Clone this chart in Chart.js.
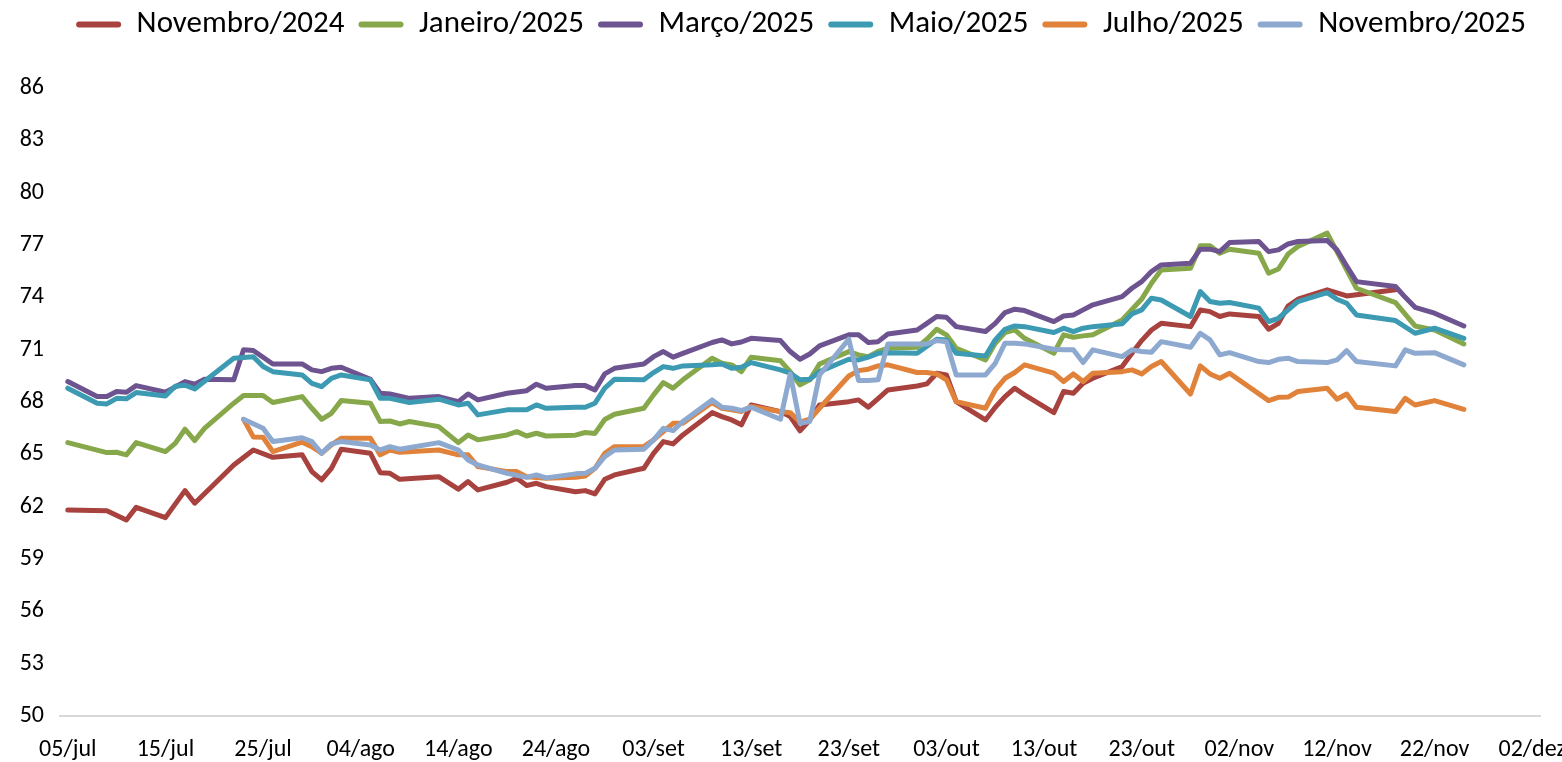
<!DOCTYPE html>
<html>
<head>
<meta charset="utf-8">
<script src="https://cdn.jsdelivr.net/npm/chart.js@4.4.1/dist/chart.umd.min.js"></script>
<style>
  html, body { margin: 0; padding: 0; background: #fff; }
  canvas { display: block; }
</style>
</head>
<body>
<canvas id="precosChart" width="1562" height="762"></canvas>
<script>
// x = days since 05/jul, y = price
const tickLabels = ['05/jul', '15/jul', '25/jul', '04/ago', '14/ago', '24/ago', '03/set', '13/set',
  '23/set', '03/out', '13/out', '23/out', '02/nov', '12/nov', '22/nov', '02/dez'];
const tickDays = tickLabels.map((label, i) => i * 10);

const seriesNames = ['Novembro/2024', 'Janeiro/2025', 'Março/2025', 'Maio/2025', 'Julho/2025', 'Novembro/2025'];

const nov24 = [[0,61.81],[4,61.77],[6,61.24],[7,61.96],[10,61.37],[12,62.92],[13,62.2],[17,64.39],[19,65.25],[21,64.83],
  [24,64.97],[25,64.01],[26,63.53],[27,64.2],[28,65.29],[31,65.06],[32,63.95],[33,63.91],[34,63.57],[38,63.72],
  [40,63.0],[41,63.44],[42,62.96],[45,63.4],[46,63.63],[47,63.21],[48,63.34],[49,63.15],[52,62.86],[53,62.92],
  [54,62.73],[55,63.57],[56,63.82],[59,64.2],[60,65.06],[61,65.73],[62,65.6],[63,66.11],[66,67.39],[67,67.16],
  [68,66.97],[69,66.69],[70,67.83],[73,67.45],[74,67.16],[75,66.35],[76,66.97],[77,67.83],[80,68.02],[81,68.12],
  [82,67.7],[83,68.2],[84,68.69],[87,68.92],[88,69.04],[89,69.65],[90,69.55],[91,68.02],[94,66.97],[95,67.7],
  [96,68.31],[97,68.79],[98,68.41],[101,67.39],[102,68.6],[103,68.5],[104,69.07],[105,69.36],[108,70.03],[109,70.79],
  [110,71.52],[111,72.13],[112,72.51],[115,72.32],[116,73.28],[117,73.18],[118,72.9],[119,73.05],[122,72.9],[123,72.17],
  [124,72.51],[125,73.5],[126,73.89],[129,74.43],[131,74.08],[136,74.43]];

const jan25 = [[0,65.67],[4,65.1],[5,65.12],[6,64.97],[7,65.67],[10,65.16],[11,65.63],[12,66.44],[13,65.79],[14,66.49],
  [17,67.93],[18,68.37],[20,68.37],[21,67.97],[24,68.31],[25,67.64],[26,67.01],[27,67.35],[28,68.08],[31,67.93],
  [32,66.88],[33,66.91],[34,66.74],[35,66.88],[38,66.59],[40,65.67],[41,66.11],[42,65.83],[45,66.11],[46,66.3],
  [47,66.05],[48,66.21],[49,66.05],[52,66.1],[53,66.25],[54,66.2],[55,67.0],[56,67.3],[59,67.64],[60,68.41],
  [61,69.11],[62,68.79],[63,69.27],[66,70.51],[67,70.22],[68,70.13],[69,69.74],[70,70.57],[73,70.36],[74,69.74],
  [75,68.98],[76,69.27],[77,70.18],[80,70.89],[81,70.7],[82,70.6],[83,70.9],[84,71.08],[87,71.14],[88,71.6],
  [89,72.17],[90,71.85],[91,71.08],[94,70.41],[95,71.37],[96,71.98],[97,72.13],[98,71.65],[101,70.79],[102,71.85],
  [103,71.71],[104,71.79],[105,71.85],[108,72.7],[109,73.3],[110,73.9],[111,74.81],[112,75.57],[115,75.67],[116,76.95],
  [117,76.95],[118,76.53],[119,76.76],[122,76.53],[123,75.38],[124,75.62],[125,76.48],[126,76.91],[129,77.68],[132,74.52],
  [136,73.7],[138,72.36],[140,72.13],[143,71.33]];

const mar25 = [[0,69.17],[3,68.31],[4,68.31],[5,68.6],[6,68.56],[7,68.94],[10,68.56],[12,69.17],[13,69.02],[14,69.3],
  [17,69.27],[18,70.99],[19,70.95],[21,70.18],[24,70.18],[25,69.84],[26,69.74],[27,69.93],[28,69.99],[31,69.3],
  [32,68.5],[33,68.46],[35,68.21],[38,68.31],[40,68.02],[41,68.46],[42,68.12],[45,68.5],[47,68.65],[48,69.02],
  [49,68.79],[52,68.94],[53,68.94],[54,68.69],[55,69.61],[56,69.93],[59,70.18],[60,70.6],[61,70.89],[62,70.57],
  [63,70.79],[66,71.41],[67,71.56],[68,71.33],[69,71.44],[70,71.65],[73,71.52],[74,70.89],[75,70.45],[76,70.75],
  [77,71.22],[80,71.85],[81,71.85],[82,71.41],[83,71.46],[84,71.9],[87,72.13],[88,72.51],[89,72.9],[90,72.86],
  [91,72.32],[94,72.04],[95,72.51],[96,73.13],[97,73.32],[98,73.24],[101,72.61],[102,72.93],[103,72.99],[104,73.28],
  [105,73.57],[108,74.04],[109,74.52],[110,74.9],[111,75.48],[112,75.86],[115,75.96],[116,76.76],[117,76.76],[118,76.62],
  [119,77.14],[122,77.2],[123,76.62],[124,76.72],[125,77.06],[126,77.2],[129,77.26],[130,76.72],[131,75.8],[132,74.9],
  [136,74.62],[137,74.0],[138,73.43],[140,73.09],[143,72.36]];

const mai25 = [[0,68.79],[3,67.93],[4,67.89],[5,68.21],[6,68.18],[7,68.54],[10,68.35],[11,68.9],[12,68.96],[13,68.75],
  [17,70.51],[19,70.6],[20,70.03],[21,69.74],[24,69.55],[25,69.07],[26,68.88],[27,69.36],[28,69.55],[31,69.27],
  [32,68.21],[33,68.21],[35,67.97],[38,68.16],[40,67.83],[41,67.93],[42,67.26],[45,67.55],[47,67.55],[48,67.83],
  [49,67.64],[52,67.7],[53,67.7],[54,67.93],[55,68.79],[56,69.3],[59,69.27],[60,69.69],[61,70.03],[62,69.93],
  [63,70.07],[66,70.13],[67,70.18],[68,69.93],[69,69.99],[70,70.26],[73,69.84],[74,69.65],[75,69.27],[76,69.3],
  [77,69.74],[80,70.45],[81,70.41],[82,70.57],[83,70.79],[84,70.83],[87,70.79],[88,71.2],[89,71.6],[90,71.56],
  [91,70.79],[94,70.64],[95,71.56],[96,72.17],[97,72.36],[98,72.32],[101,71.98],[102,72.23],[103,72.04],[104,72.23],
  [105,72.32],[108,72.48],[109,73.05],[110,73.28],[111,73.95],[112,73.85],[115,72.9],[116,74.33],[117,73.76],[118,73.66],
  [119,73.7],[122,73.38],[123,72.61],[124,72.8],[125,73.28],[126,73.76],[129,74.27],[130,73.89],[131,73.66],[132,72.99],
  [136,72.67],[138,71.94],[140,72.23],[143,71.65]];

const jul25 = [[18,67.01],[19,66.0],[20,65.98],[21,65.16],[24,65.7],[25,65.44],[26,65.06],[27,65.54],[28,65.92],[31,65.92],
  [32,64.97],[33,65.25],[34,65.12],[38,65.25],[40,64.97],[41,64.97],[42,64.3],[45,64.01],[46,64.01],[47,63.72],
  [49,63.63],[52,63.68],[53,63.76],[54,64.2],[55,65.06],[56,65.44],[59,65.44],[60,65.83],[62,66.78],[63,66.78],
  [66,67.97],[67,67.64],[68,67.55],[69,67.45],[70,67.74],[73,67.45],[74,67.39],[75,66.85],[76,67.01],[77,67.64],
  [80,69.49],[81,69.8],[82,69.88],[83,70.07],[84,70.13],[87,69.69],[88,69.69],[89,69.61],[90,69.27],[91,68.02],
  [94,67.64],[95,68.69],[96,69.36],[97,69.69],[98,70.13],[101,69.65],[102,69.17],[103,69.61],[104,69.17],[105,69.65],
  [108,69.74],[109,69.84],[110,69.61],[111,70.03],[112,70.32],[115,68.46],[116,70.07],[117,69.61],[118,69.36],[119,69.65],
  [123,68.08],[124,68.27],[125,68.28],[126,68.6],[129,68.79],[130,68.16],[131,68.46],[132,67.7],[136,67.45],[137,68.21],
  [138,67.83],[140,68.08],[143,67.58]];

const nov25 = [[18,67.01],[20,66.49],[21,65.73],[24,65.95],[25,65.73],[26,65.06],[27,65.6],[28,65.73],[31,65.54],[32,65.25],
  [33,65.44],[34,65.29],[38,65.67],[40,65.25],[41,64.68],[42,64.39],[45,63.91],[47,63.68],[48,63.82],[49,63.65],
  [52,63.88],[53,63.91],[54,64.2],[55,64.87],[56,65.25],[59,65.29],[60,65.83],[61,66.49],[62,66.36],[63,66.88],
  [66,68.12],[67,67.7],[68,67.64],[69,67.51],[70,67.7],[73,67.01],[74,69.61],[75,66.78],[76,66.88],[77,69.55],
  [80,71.6],[81,69.23],[82,69.23],[83,69.27],[84,71.33],[87,71.33],[88,71.33],[89,71.52],[90,71.46],[91,69.55],
  [94,69.55],[95,70.22],[96,71.37],[97,71.37],[98,71.33],[101,71.02],[102,71.0],[103,70.99],[104,70.26],[105,70.99],
  [108,70.6],[109,70.99],[110,70.89],[111,70.85],[112,71.46],[115,71.14],[116,71.94],[117,71.56],[118,70.7],[119,70.83],
  [122,70.32],[123,70.26],[124,70.45],[125,70.51],[126,70.32],[129,70.26],[130,70.41],[131,70.95],[132,70.32],[136,70.07],
  [137,70.99],[138,70.79],[140,70.83],[143,70.13]];

const seriesData = [nov24, jan25, mar25, mai25, jul25, nov25];
const seriesColors = ['#A8423E', '#87A84A', '#6D5490', '#3C9AB2', '#E0823A', '#8DA9D0'];

const fontFamily = "Carlito, Lato, 'Liberation Sans', sans-serif";

// legend takes a fixed band so the plot starts right under it
const legendHeight = {
  id: 'legendHeight',
  beforeInit(chart) {
    const originalFit = chart.legend.fit;
    chart.legend.fit = function fit() {
      originalFit.bind(chart.legend)();
      this.height = 93;
    };
  }
};

const datasets = seriesNames.map((name, i) => ({
  label: name,
  data: seriesData[i],
  borderColor: seriesColors[i],
  backgroundColor: seriesColors[i],
  borderWidth: 5,
  borderJoinStyle: 'round',
  borderCapStyle: 'round',
  pointRadius: 0,
  tension: 0,
  // later series sit on top of earlier ones
  order: seriesNames.length - i
}));

new Chart(document.getElementById('precosChart').getContext('2d'), {
  type: 'line',
  data: { datasets: datasets },
  plugins: [legendHeight],
  options: {
    responsive: false,
    animation: false,
    layout: { padding: { top: -5, right: 22, bottom: 0, left: 0 } },
    plugins: {
      tooltip: { enabled: false },
      legend: {
        position: 'top',
        align: 'end',
        labels: {
          boxWidth: 45,
          boxHeight: 6,
          useBorderRadius: true,
          borderRadius: 3,
          padding: 14,
          color: '#000',
          font: { family: fontFamily, size: 31, lineHeight: 1 },
          generateLabels: (chart) => Chart.defaults.plugins.legend.labels.generateLabels(chart)
            .map(item => ({ ...item, lineWidth: 0 }))
            .sort((a, b) => a.datasetIndex - b.datasetIndex)
        }
      }
    },
    scales: {
      x: {
        type: 'linear',
        min: -0.8,
        max: 150.8,
        grid: { display: false, drawTicks: false },
        border: { display: true, color: '#d9d9d9', width: 2 },
        afterBuildTicks: (scale) => { scale.ticks = tickDays.map(v => ({ value: v })); },
        afterFit: (scale) => { scale.height = 46; scale.paddingLeft = 0; scale.paddingRight = 0; },
        ticks: {
          autoSkip: false,
          maxRotation: 0,
          padding: 20,
          color: '#000',
          font: { family: fontFamily, size: 24 },
          callback: (value, index) => tickLabels[index]
        }
      },
      y: {
        min: 50,
        max: 86,
        grid: { display: false, drawTicks: false },
        border: { display: false },
        afterFit: (scale) => { scale.width = 60; scale.paddingTop = 0; scale.paddingBottom = 0; },
        ticks: {
          stepSize: 3,
          padding: 16,
          color: '#000',
          font: { family: fontFamily, size: 24 }
        }
      }
    }
  }
});
</script>
</body>
</html>
